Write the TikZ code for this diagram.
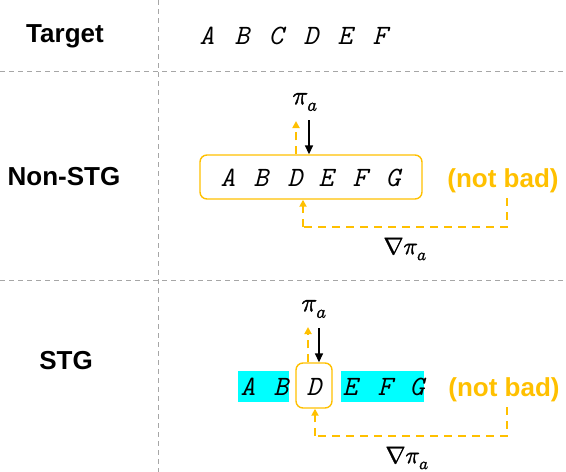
\documentclass[tikz,border=0pt]{standalone}
\usepackage{fontspec}
\usepackage{unicode-math}
\setmainfont{Liberation Sans}
\setmathfont{Latin Modern Math}[FakeBold=1.6]
\usetikzlibrary{arrows.meta}
\definecolor{gold}{HTML}{FFC000}
\definecolor{cyanbg}{HTML}{00FFFF}
\definecolor{sepgray}{HTML}{A6A6A6}
\tikzset{
  rowlabel/.style={font=\fontsize{26}{30}\selectfont\bfseries, inner sep=0pt},
  lett/.style={font=\fontsize{28}{30}\selectfont\ttfamily\itshape, inner sep=0pt},
  notbad/.style={font=\fontsize{26}{30}\selectfont\bfseries, text=gold, inner sep=0pt},
  mathlab/.style={font=\fontsize{26}{28}\selectfont, inner sep=0pt},
  gradlab/.style={font=\fontsize{24}{28}\selectfont, inner sep=0pt},
  sepline/.style={draw=sepgray, line width=0.8pt, dash pattern=on 5pt off 4pt},
  goldbox/.style={draw=gold, line width=1.4pt, rounded corners=7pt},
  cyanrect/.style={fill=cyanbg, draw=none, inner sep=0pt},
  blackarrow/.style={draw=black, line width=1.5pt, -{Triangle[width=8pt,length=9pt]}},
  goldarrow/.style={draw=gold, line width=1.8pt, dash pattern=on 8pt off 6pt, -{Triangle[width=7pt,length=7pt]}},
  goldline/.style={draw=gold, line width=1.8pt, dash pattern=on 8pt off 6pt},
}
\begin{document}
\begin{tikzpicture}[x=1pt, y=-1pt]
\useasboundingbox (0,0) rectangle (566,472);
% separators
\coordinate (vt) at (158,0);
\coordinate (vb) at (158,472);
\coordinate (h1l) at (0,71);
\coordinate (h1r) at (566,71);
\coordinate (h2l) at (0,280);
\coordinate (h2r) at (566,280);
\draw[sepline] (vt) -- (vb);
\draw[sepline] (h1l) -- (h1r);
\draw[sepline] (h2l) -- (h2r);
% row labels
\node[rowlabel] (ltarget) at (65,36) {Target};
\node[rowlabel] (lnon) at (64,177) {Non-STG};
\node[rowlabel] (lstg) at (66,361) {STG};
% target letters
\foreach \l/\x in {A/207,B/242,C/276,D/311,E/345,F/380}
  \node[lett] (t\l) at (\x,36) {\l};
% Non-STG
\node[goldbox, minimum width=222pt, minimum height=44pt] (nbox) at (311,177) {};
\foreach \l/\x in {A/228,B/261,D/295,E/326,F/360,G/393}
  \node[lett] (n\l) at (\x,178) {\l};
\node[notbad] (nnb) at (503,181) {(not bad)};
\node[mathlab] (npi) at (305,102) {$\pi_a$};
\coordinate (ndown) at (309,120);
\coordinate (nup) at (296,121);
\draw[blackarrow] (ndown) -- (ndown |- nbox.north);
\draw[goldarrow] (nup |- nbox.north) -- (nup);
\coordinate (nfr) at (507,227);
\coordinate (nfl) at (303,227);
\draw[goldline] (nfr |- nnb.south) ++(0,5) -- (nfr) -- (nfl);
\draw[goldarrow] (nfl) -- (nfl |- nbox.south);
\node[gradlab] (ngrad) at (405,249) {$\nabla\pi_a$};
% STG
\node[cyanrect, minimum width=51pt, minimum height=31pt] (c1) at (263.5,386.5) {};
\node[cyanrect, minimum width=83pt, minimum height=31pt] (c2) at (382.5,386.5) {};
\node[goldbox, minimum width=36pt, minimum height=45pt] (sbox) at (314,385.5) {};
\foreach \l/\x in {A/248,B/281,D/314,E/350,F/385,G/417}
  \node[lett] (s\l) at (\x,387) {\l};
\node[notbad] (snb) at (504,390) {(not bad)};
\node[mathlab] (spi) at (314,309) {$\pi_a$};
\coordinate (sdown) at (319,328);
\coordinate (sup) at (308,327);
\draw[blackarrow] (sdown) -- (sdown |- sbox.north);
\draw[goldarrow] (sup |- sbox.north) -- (sup);
\coordinate (sfr) at (507,436);
\coordinate (sfl) at (315,436);
\draw[goldline] (sfr |- snb.south) ++(0,5) -- (sfr) -- (sfl);
\draw[goldarrow] (sfl) -- (sfl |- sbox.south);
\node[gradlab] (sgrad) at (407,458) {$\nabla\pi_a$};
\end{tikzpicture}
\end{document}
